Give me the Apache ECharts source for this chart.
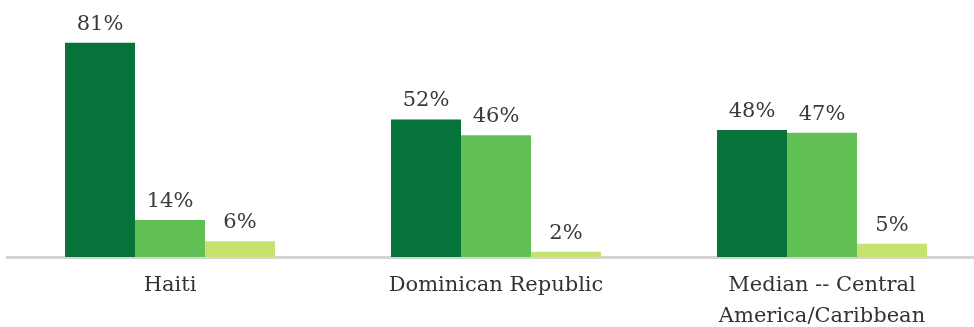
<!DOCTYPE html>
<html>
<head>
<meta charset="utf-8">
<script src="https://cdn.jsdelivr.net/npm/echarts@6/dist/echarts.min.js"></script>
<style>
  html, body { margin: 0; padding: 0; background: #fff; }
  #chart { width: 974px; height: 327px; }
</style>
</head>
<body>
<div id="chart"></div>
<script>
// Categories along the x axis
const categories = ['Haiti', 'Dominican Republic', 'Median -- Central\nAmerica/Caribbean'];

// Percent values per series, one entry per category
const darkValues = [81, 52, 48];
const midValues = [14, 46, 47];
const lightValues = [6, 2, 5];

const colors = ['#06733a', '#60c053', '#c6e36f'];
const fontFamily = '"DejaVu Serif", "Liberation Serif", serif';

function makeSeries(values, color) {
  return {
    type: 'bar',
    data: values,
    barWidth: 70,
    barGap: '0%',
    itemStyle: { color: color },
    label: {
      show: true,
      position: 'top',
      distance: 8,
      formatter: '{c}%',
      fontFamily: fontFamily,
      fontSize: 21,
      color: '#3a3a3a'
    },
    silent: true
  };
}

const chart = echarts.init(document.getElementById('chart'), null, { renderer: 'canvas' });
chart.setOption({
  animation: false,
  // the plot runs slightly past the right edge so the three groups sit evenly;
  // labels are allowed to extend beyond the grid box
  grid: { left: 7, width: 978, top: 19, bottom: 70, containLabel: false, outerBoundsMode: 'none' },
  xAxis: {
    type: 'category',
    data: categories,
    axisLine: { show: true, lineStyle: { color: '#d4d4d4', width: 3 } },
    axisTick: { show: false },
    axisLabel: {
      margin: 13,
      fontFamily: fontFamily,
      fontSize: 21,
      lineHeight: 31,
      color: '#333333',
      interval: 0
    }
  },
  yAxis: {
    type: 'value',
    min: 0,
    max: 90,
    show: false,
    splitLine: { show: false }
  },
  series: [
    makeSeries(darkValues, colors[0]),
    makeSeries(midValues, colors[1]),
    makeSeries(lightValues, colors[2])
  ]
});
</script>
</body>
</html>
